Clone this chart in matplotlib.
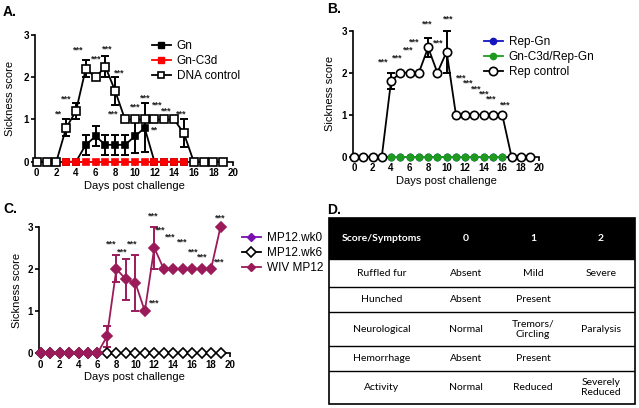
import numpy as np
import matplotlib
matplotlib.use("Agg")
import matplotlib.pyplot as plt
from matplotlib.lines import Line2D

plt.rcParams['font.family'] = ['Liberation Sans', 'DejaVu Sans']

# Panel A data
days_a = list(range(0, 20))
dna_control = [0, 0, 0, 0.8, 1.2, 2.2, 2.0, 2.25, 1.67, 1.0, 1.0, 1.0, 1.0, 1.0, 1.0, 0.67, 0, 0, 0, 0]
dna_err = [0, 0, 0, 0.2, 0.2, 0.2, 0, 0.25, 0.33, 0, 0, 0, 0, 0, 0, 0.33, 0, 0, 0, 0]
days_gn = list(range(3, 16))
gn = [0, 0, 0.4, 0.6, 0.4, 0.4, 0.4, 0.6, 0.8, 0, 0, 0, 0]
gn_err = [0, 0, 0.24, 0.24, 0.24, 0.24, 0.24, 0.4, 0.58, 0, 0, 0, 0]
gn_c3d = [0] * 13
stars_a = [(2.2, 1.12, '**'), (3.05, 1.48, '***'), (4.25, 2.64, '***'), (6.1, 2.42, '***'),
           (7.2, 2.67, '***'), (8.4, 2.1, '***'), (7.8, 1.12, '***'), (10.0, 1.3, '***'),
           (11.1, 1.5, '***'), (12.3, 1.34, '***'), (13.2, 1.2, '***'), (14.7, 1.12, '***'),
           (12.0, 0.75, '**')]

# Panel B data
days_b = list(range(0, 20))
rep_control = [0, 0, 0, 0, 1.8, 2, 2, 2, 2.6, 2, 2.5, 1, 1, 1, 1, 1, 1, 0, 0, 0]
rep_err = [0, 0, 0, 0, 0.2, 0, 0, 0, 0.23, 0, 0.5, 0, 0, 0, 0, 0, 0, 0, 0, 0]
days_rep = list(range(4, 17))
rep_gn = [0] * 13
gn_c3d_rep = [0] * 13
stars_b = [(3.1, 2.26), (4.7, 2.36), (5.9, 2.54), (6.5, 2.74), (7.9, 3.15), (9.1, 2.7),
           (10.2, 3.28), (11.6, 1.87), (12.3, 1.75), (13.2, 1.61), (14.0, 1.49),
           (14.8, 1.37), (16.3, 1.24)]

# Panel C data
days_c = list(range(0, 20))
wiv_mp12 = [0, 0, 0, 0, 0, 0, 0, 0.4, 2.0, 1.75, 1.67, 1.0, 2.5, 2, 2, 2, 2, 2, 2, 3]
wiv_err = [0, 0, 0, 0, 0, 0, 0, 0.24, 0.32, 0.48, 0.67, 0, 0.5, 0, 0, 0, 0, 0, 0, 0]
mp12_wk0 = [0] * 20
mp12_wk6 = [0] * 20
stars_c = [(7.4, 2.6), (8.6, 2.39), (9.7, 2.6), (12.0, 1.2), (11.9, 3.25), (12.6, 2.92),
           (13.7, 2.76), (15.0, 2.64), (16.1, 2.39), (17.1, 2.27), (18.9, 2.17), (19.0, 3.2)]

# Panel D table
table_header = ['Score/Symptoms', '0', '1', '2']
table_rows = [
    ['Ruffled fur', 'Absent', 'Mild', 'Severe'],
    ['Hunched', 'Absent', 'Present', ''],
    ['Neurological', 'Normal', 'Tremors/\nCircling', 'Paralysis'],
    ['Hemorrhage', 'Absent', 'Present', ''],
    ['Activity', 'Normal', 'Reduced', 'Severely\nReduced'],
]

W, H = 639, 408
fig = plt.figure(figsize=(W / 100, H / 100), dpi=100)

BLUE = '#1414C0'
GREEN = '#1E9A1E'
PURPLE = '#7A0FB0'
MAROON = '#9B1B5A'
RED = '#FF0000'


def make_axes(spine_x, x0, x20, y0, y3):
    ppd = (x20 - x0) / 20.0
    xlo = -(x0 - spine_x) / ppd
    ax = fig.add_axes([spine_x / W, (H - y0) / H, (x20 - spine_x) / W, (y0 - y3) / H])
    ax.set_xlim(xlo, 20)
    ax.set_ylim(0, 3)
    ax.set_xticks(range(0, 21, 2))
    ax.set_yticks([0, 1, 2, 3])
    for s in ['top', 'right']:
        ax.spines[s].set_visible(False)
    for s in ['left', 'bottom']:
        ax.spines[s].set_linewidth(1.2)
    ax.tick_params(length=3, width=1.2, labelsize=7, pad=1.5)
    for lab in ax.get_xticklabels() + ax.get_yticklabels():
        lab.set_fontweight('bold')
    ax.set_xlabel('Days post challenge', fontsize=8, labelpad=2)
    ax.set_ylabel('Sickness score', fontsize=8, labelpad=4)
    ax.set_facecolor('none')
    return ax


def errs(ax, x, y, e, color):
    idx = [i for i in range(len(e)) if e[i] > 0]
    ax.errorbar([x[i] for i in idx], [y[i] for i in idx], yerr=[e[i] for i in idx],
                fmt='none', ecolor=color, elinewidth=1.4, capsize=3, capthick=1.4,
                zorder=2, clip_on=False)


def series(ax, x, y, color, marker, face, ms, z):
    ax.plot(x, y, color=color, marker=marker, markerfacecolor=face, markeredgecolor=color,
            markeredgewidth=1.2, markersize=ms, linewidth=1.3, zorder=z, clip_on=False)


def stars(ax, pts):
    for p in pts:
        txt = p[2] if len(p) > 2 else '***'
        ax.text(p[0], p[1], txt, fontsize=6.5, fontweight='bold', ha='center', va='center',
                color='#222222')


def legend(ax, handles, labels, x, y):
    ax.legend(handles, labels, loc='upper left', bbox_to_anchor=(x / W, (H - y) / H),
              bbox_transform=fig.transFigure, frameon=False, fontsize=8.5,
              handlelength=1.6, handletextpad=0.5, labelspacing=0.25, borderpad=0)


# Panel A
axA = make_axes(35, 36.7, 233, 161.7, 35)
errs(axA, days_a, dna_control, dna_err, 'black')
errs(axA, days_gn, gn, gn_err, 'black')
series(axA, days_gn, gn, 'black', 's', 'black', 5, 3)
series(axA, days_gn, gn_c3d, RED, 's', RED, 5, 4)
series(axA, days_a, dna_control, 'black', 's', 'white', 5.5, 5)
stars(axA, stars_a)
hA = [Line2D([], [], color='black', marker='s', mfc='black', ms=4.5, lw=1.3),
      Line2D([], [], color=RED, marker='s', mfc=RED, mec=RED, ms=4.5, lw=1.3),
      Line2D([], [], color='black', marker='s', mfc='white', ms=5, lw=1.3, mew=1.2)]
legend(axA, hA, ['Gn', 'Gn-C3d', 'DNA control'], 146, 34)
axA.yaxis.set_label_coords((15 - 35) / (233 - 35), 0.5)

# Panel B
axB = make_axes(353, 354, 539.3, 156.7, 30.7)
errs(axB, days_b, rep_control, rep_err, 'black')
series(axB, days_rep, rep_gn, BLUE, 'o', BLUE, 4.5, 3)
series(axB, days_rep, gn_c3d_rep, GREEN, 'o', GREEN, 4.5, 4)
series(axB, days_b, rep_control, 'black', 'o', 'white', 6, 5)
stars(axB, stars_b)
hB = [Line2D([], [], color=BLUE, marker='o', mfc=BLUE, mec=BLUE, ms=4.5, lw=1.3),
      Line2D([], [], color=GREEN, marker='o', mfc=GREEN, mec=GREEN, ms=4.5, lw=1.3),
      Line2D([], [], color='black', marker='o', mfc='white', ms=6, lw=1.3, mew=1.2)]
legend(axB, hB, ['Rep-Gn', 'Gn-C3d/Rep-Gn', 'Rep control'], 478, 30)
axB.yaxis.set_label_coords((335 - 353) / (539.3 - 353), 0.5)

# Panel C
axC = make_axes(39, 40.7, 230, 353.3, 226.7)
series(axC, days_c, mp12_wk0, PURPLE, 'D', PURPLE, 4.5, 3)
series(axC, days_c, mp12_wk6, 'black', 'D', 'white', 5, 4)
errs(axC, days_c, wiv_mp12, wiv_err, MAROON)
series(axC, days_c, wiv_mp12, MAROON, 'D', MAROON, 5, 5)
stars(axC, stars_c)
hC = [Line2D([], [], color=PURPLE, marker='D', mfc=PURPLE, mec=PURPLE, ms=4, lw=1.3),
      Line2D([], [], color='black', marker='D', mfc='white', ms=5, lw=1.3, mew=1.2),
      Line2D([], [], color=MAROON, marker='D', mfc=MAROON, mec=MAROON, ms=4, lw=1.3)]
legend(axC, hC, ['MP12.wk0', 'MP12.wk6', 'WIV MP12'], 236, 226)
axC.yaxis.set_label_coords((22 - 39) / (230 - 39), 0.5)

# Panel D table
tl, tr, tt, tb = 329, 635, 218, 404
axD = fig.add_axes([tl / W, (H - tb) / H, (tr - tl) / W, (tb - tt) / H])
axD.set_xlim(0, 1)
axD.set_ylim(1, 0)
axD.axis('off')
row_edges = [0, 41, 69, 94, 128, 153, 186]
row_edges = [r / 186.0 for r in row_edges]
col_centers = [0.173, 0.448, 0.667, 0.889]
axD.add_patch(plt.Rectangle((0, 0), 1, row_edges[1], facecolor='black', edgecolor='black'))
axD.add_patch(plt.Rectangle((0, 0), 1, 1, facecolor='none', edgecolor='black', lw=1.2,
                            clip_on=False))
for r in row_edges[2:-1]:
    axD.plot([0, 1], [r, r], color='black', lw=1.0)
tfont = ['Lato', 'DejaVu Sans']
for c, txt in zip(col_centers, table_header):
    axD.text(c, row_edges[1] / 2, txt, color='white', fontweight='bold', fontsize=7.5,
             ha='center', va='center', family=tfont)
for i, row in enumerate(table_rows):
    yc = (row_edges[i + 1] + row_edges[i + 2]) / 2
    for c, txt in zip(col_centers, row):
        axD.text(c, yc, txt, fontsize=7.5, ha='center', va='center', family=tfont,
                 linespacing=1.15)

# Panel letters
for lx, ly, letter in [(3, 12, 'A.'), (327, 9, 'B.'), (3, 209, 'C.'), (327, 210, 'D.')]:
    fig.text(lx / W, (H - ly) / H, letter, fontsize=10, fontweight='bold', va='center',
             ha='left')

fig.savefig('out.png', dpi=100)
